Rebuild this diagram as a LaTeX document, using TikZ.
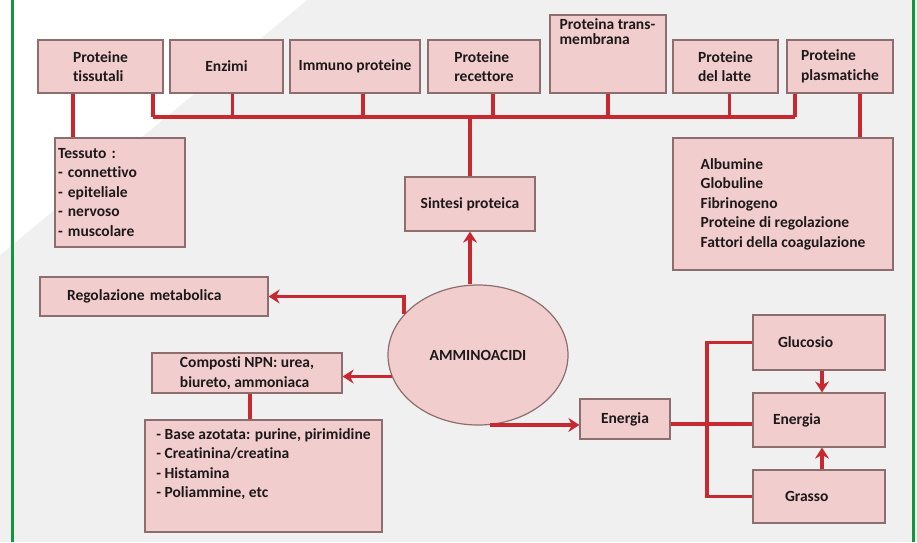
\documentclass[tikz,border=0pt]{standalone}
\usepackage{fontspec}
\setmainfont{Carlito}[Ligatures={NoCommon}]
\usetikzlibrary{arrows.meta,shapes.geometric,calc}
\definecolor{bg}{RGB}{240,240,240}
\definecolor{boxfill}{RGB}{242,205,205}
\definecolor{boxdraw}{RGB}{140,110,110}
\definecolor{linered}{RGB}{200,40,48}
\definecolor{framegreen}{RGB}{20,150,60}
\definecolor{txt}{RGB}{30,25,25}
\begin{document}
\begin{tikzpicture}[x=1pt,y=-1pt,
  box/.style={draw=boxdraw, fill=boxfill, line width=1.2pt, inner sep=0pt,
    font=\bfseries\fontsize{15.5}{19.5}\selectfont, text=txt, align=left},
  lbl/.style={inner sep=0pt, font=\bfseries\fontsize{15.5}{15}\selectfont, text=txt, align=left},
  conn/.style={draw=linered, line width=3.4pt},
  arr/.style={conn, -{Stealth[length=11pt,width=14pt]}}]
% background
\fill[bg] (0,0) rectangle (917,542);
\fill[white] (0,0) -- (307,0) -- (0,255) -- cycle;
\useasboundingbox (0,0) rectangle (917,542);
\fill[framegreen] (10.5,0) rectangle (13.5,542);
\fill[framegreen] (911.5,0) rectangle (914.5,542);

% coordinates
\coordinate (busL) at (153,117);
\coordinate (busR) at (795,117);
\coordinate (tx) at (73,0);
\coordinate (px) at (860,0);
\coordinate (jx) at (707,0);
\coordinate (ax) at (822,0);

% connectors (drawn under boxes)
\draw[conn] (busL) -- (busR);

% top row
\node[box, minimum width=125, minimum height=53] (pt) at (100.5,66.5) {Proteine\\tissutali};
\node[box, minimum width=113, minimum height=53] (enz) at (226.5,66.5) {Enzimi};
\node[box, minimum width=130, minimum height=53] (imm) at (355,66.5) {Immuno proteine};
\node[box, minimum width=112, minimum height=53] (rec) at (484,66.5) {Proteine\\recettore};
\node[box, minimum width=116, minimum height=78] (tm) at (608,54) {};
\node[lbl, anchor=north west] (tmtext) at ([shift={(10,4)}]tm.north west) {Proteina trans-\\membrana};
\node[box, minimum width=105, minimum height=53] (lat) at (725.5,66.5) {Proteine\\del latte};
\node[box, minimum width=106, minimum height=53] (pla) at (840,66.5) {Proteine\\plasmatiche};

% second level
\node[box, minimum width=130, minimum height=109, text width=124] (tes) at (120,192.5)
  {Tessuto :\\- connettivo\\- epiteliale\\- nervoso\\- muscolare};
\node[box, minimum width=220, minimum height=132] (alb) at (783,204)
  {Albumine\\Globuline\\Fibrinogeno\\Proteine di regolazione\\Fattori della coagulazione};
\node[box, minimum width=130, minimum height=54] (sin) at (470,204) {Sintesi proteica};

% middle
\node[box, minimum width=228, minimum height=39, text width=174] (reg) at (154,296.5) {Regolazione metabolica};
\node[box, ellipse, minimum width=180, minimum height=140] (amm) at (478,355) {AMMINOACIDI};
\node[box, minimum width=190, minimum height=40] (npn) at (247,373) {Composti NPN: urea,\\biureto, ammoniaca};
\node[box, minimum width=237, minimum height=112] (bas) at (263.5,476)
  {- Base azotata: purine, pirimidine\\- Creatinina/creatina\\- Histamina\\- Poliammine, etc\\[6pt]};
\node[box, minimum width=90, minimum height=40] (en) at (625,419) {Energia};

% right
\node[box, minimum width=132, minimum height=55, text width=82] (glu) at (819,342.5) {Glucosio};
\node[box, minimum width=132, minimum height=54, text width=92] (en2) at (819,420) {Energia};
\node[box, minimum width=132, minimum height=53, text width=68] (gra) at (819,496.5) {Grasso};

% drops to bus
\draw[conn] (busL |- pt.south) -- (busL);
\draw[conn] ([xshift=6]enz.south) -- ([xshift=6]enz.south |- busL);
\draw[conn] ([xshift=8]imm.south) -- ([xshift=8]imm.south |- busL);
\draw[conn] ([xshift=9]rec.south) -- ([xshift=9]rec.south |- busL);
\draw[conn] (tm.south) -- (tm.south |- busL);
\draw[conn] ([xshift=4]lat.south) -- ([xshift=4]lat.south |- busL);
\draw[conn] (busR |- pla.south) -- (busR);
\draw[conn] (px |- pla.south) -- (px |- alb.north);
\draw[conn] (tx |- pt.south) -- (tx |- tes.north);
\draw[conn] (sin.north |- busL) -- (sin.north);

% arrows from amminoacidi
\draw[arr] (sin.south |- amm.north) -- (sin.south);
\draw[arr] (amm.151) |- (reg.east);
\draw[arr] (amm.194) -- (amm.194 -| npn.east);
\draw[arr] (amm.-80) -- (amm.-80 -| en.west);
\draw[conn] ([xshift=3]npn.south) -- ([xshift=3]npn.south |- bas.north);

% energy branch
\draw[conn] ([yshift=-5]en.east) -- ([yshift=-5]en.east -| en2.west);
\draw[conn] (glu.west) -- (glu.west -| jx) -- (gra.west -| jx) -- (gra.west);
\draw[arr] (ax |- glu.south) -- (ax |- en2.north);
\draw[arr] (ax |- gra.north) -- (ax |- en2.south);
\end{tikzpicture}
\end{document}
